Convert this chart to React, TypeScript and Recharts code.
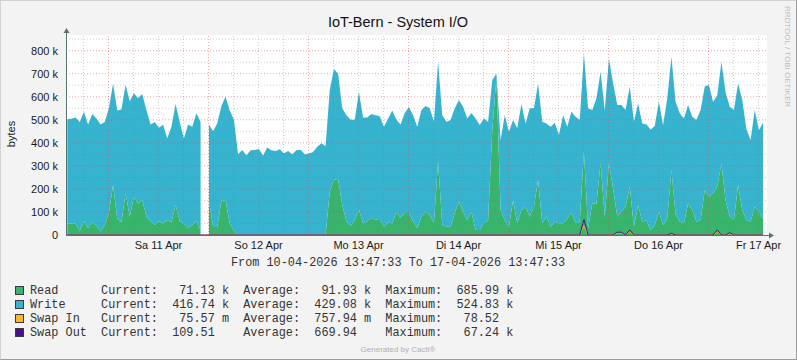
import React from 'react';
import { ComposedChart, Area, Line, XAxis, YAxis, ReferenceLine } from 'recharts';

// hourly samples from 10-04-2026 13:47:33 to 17-04-2026 13:47:33, values in k (1000 bytes)
const readK = [
  50, 50, 50, 18, 60, 30, 55, 40, 15, 45, 97, 217, 70, 55, 180, 80, 166, 137, 152, 80,
  60, 45, 60, 50, 65, 55, 130, 60, 50, 30, 45, 60, 20, null, 150, 35, 35, 150, 150, 50,
  20, 0,
  0, 0, 0, 0, 0, 0, 0, 0, 0, 0, 0, 0, 0, 0, 0, 0, 0, 0, 0, 0,
  0, 188, 240, 243, 130, 60, 40, 65, 110, 50, 60, 75, 65, 70, 35, 55, 50, 100, 75, 95,
  95, 60,
  30, 80, 101, 87, 51, 318, 43, 36, 36, 97, 145, 101, 65, 101, 22, 22, 51, 65, 450, 684,
  108, 65, 36, 152, 51, 108, 123, 80, 123, 239, 51, 80, 36, 58, 51, 51, 72, 101, 51, 58,
  361, 29,
  137, 135, 311, 80, 311, 202, 80, 101, 123, 210, 36, 130, 58, 65, 22, 43, 101, 43, 72, 282,
  90, 58, 51, 137, 108, 58, 65, 195, 166, 181, 210, 311, 150, 80, 65, 217, 108, 65, 58, 123,
  101, 71,
];

const writeK = [
  452, 455, 460, 472, 475, 450, 470, 466, 465, 445, 453, 441, 470, 490, 471, 501, 449, 456, 460, 462,
  420, 445, 405, 428, 355, 415, 438, 430, 369, 450, 425, 468, 470, null, 330, 415, 450, 410, 450, 490,
  480, 350,
  369, 345, 368, 369, 373, 345, 380, 368, 365, 372, 355, 365, 350, 368, 370, 350, 354, 360, 383, 398,
  385, 441, 480, 457, 420, 460, 460, 435, 512, 460, 450, 450, 455, 445, 435, 450, 490, 400, 405, 435,
  460, 460,
  440, 462, 459, 463, 441, 434, 477, 456, 463, 453, 441, 456, 441, 429, 484, 455, 455, 425, 222, 16,
  304, 455, 412, 347, 412, 460, 361, 470, 427, 419, 441, 404, 434, 429, 383, 469, 398, 434, 462, 441,
  427, 521,
  405, 458, 398, 460, 455, 458, 484, 463, 419, 434, 456, 441, 426, 415, 436, 430, 477, 434, 520, 492,
  488, 470, 455, 427, 405, 441, 477, 449, 485, 397, 397, 441, 470, 477, 477, 441, 478, 395, 354, 419,
  354, 417,
];

const swapInK = [
  0, 0, 0, 0, 0, 0, 0, 0, 0, 0, 0, 0,
  0, 0, 0, 0, 0, 0, 0, 0, 0, 0, 0, 0,
  0, 0, 0, 0, 0, 0, 0, 0, 0, 0, 0, 0,
  0, 0, 0, 0, 0, 0, 0, 0, 0, 0, 0, 0,
  0, 0, 0, 0, 0, 0, 0, 0, 0, 0, 0, 0,
  0, 0, 0, 0, 0, 0, 0, 0, 0, 0, 0, 0,
  0, 0, 0, 0, 0, 0, 0, 0, 0, 0, 0, 0,
  0, 0, 0, 0, 0, 0, 0, 0, 0, 0, 0, 0,
  0, 0, 0, 0, 0, 0, 0, 0, 0, 0, 0, 0,
  0, 0, 0, 0, 0, 0, 0, 0, 0, 0, 0, 0,
  0, 0, 0, 0, 40, 0, 0, 0, 0, 0, 0, 0,
  8, 8, 0, 14, 0, 0, 0, 0, 0, 0, 0, 0,
  0, 4, 0, 0, 0, 0, 0, 0, 0, 0, 0, 0,
  14, 0, 0, 6, 0, 0, 0, 0, 0, 0, 0, 0,
];

const swapOutK = [
  0, 0, 0, 0, 0, 0, 0, 0, 0, 0, 0, 0,
  0, 0, 0, 0, 0, 0, 0, 0, 0, 0, 0, 0,
  0, 0, 0, 0, 0, 0, 0, 0, 0, 0, 0, 0,
  0, 0, 0, 0, 0, 0, 0, 0, 0, 0, 0, 0,
  0, 0, 0, 0, 0, 0, 0, 0, 0, 0, 0, 0,
  0, 0, 0, 0, 0, 0, 0, 0, 0, 0, 0, 0,
  0, 0, 0, 0, 0, 0, 0, 0, 0, 0, 0, 0,
  0, 0, 0, 0, 0, 0, 0, 0, 0, 0, 0, 0,
  0, 0, 0, 0, 0, 0, 0, 0, 0, 0, 0, 0,
  0, 0, 0, 0, 0, 0, 0, 0, 0, 0, 0, 0,
  0, 0, 0, 0, 67.2, 0, 0, 0, 0, 0, 0, 0,
  12, 12, 0, 22, 0, 0, 0, 0, 0, 0, 0, 0,
  0, 7, 0, 0, 0, 0, 0, 0, 0, 0, 0, 0,
  22, 0, 0, 10, 0, 0, 0, 0, 0, 0, 0, 0,
];

const dayLabels = ['Sa 11 Apr', 'So 12 Apr', 'Mo 13 Apr', 'Di 14 Apr', 'Mi 15 Apr', 'Do 16 Apr', 'Fr 17 Apr'];
const yTicks = [0, 100000, 200000, 300000, 400000, 500000, 600000, 700000, 800000];
const yHalfTicks = [50000, 150000, 250000, 350000, 450000, 550000, 650000, 750000, 850000];

// legend table
const seriesNames = ['Read', 'Write', 'Swap In', 'Swap Out'];
const seriesColors = ['#38b46c', '#36b4cf', '#fdb52b', '#4a0f8f'];
const currentLabels = [' 71.13 k', '416.74 k', ' 75.57 m', '109.51  '];
const averageLabels = [' 91.93 k', '429.08 k', '757.94 m', '669.94  '];
const maximumLabels = ['685.99 k', '524.83 k', ' 78.52  ', ' 67.24 k'];

const SANS = "'Liberation Sans', Arial, sans-serif";
const MONO = "'Liberation Mono', 'DejaVu Sans Mono', monospace";

const START_HOUR = 13 + 47 / 60 + 33 / 3600;
const firstMidnight = 24 - START_HOUR;
const midnightHours = Array.from({ length: 7 }, (_, k) => firstMidnight + 24 * k);
const sixHourLines = Array.from({ length: 28 }, (_, k) => ({ h: firstMidnight - 6 + 6 * k, major: k % 4 === 1 }))
  .filter(g => !g.major && g.h > 0 && g.h < 168)
  .map(g => g.h);
const labelHours = dayLabels.map((_, k) => firstMidnight + 12 + 24 * k);

const data = readK.map((r, i) => ({
  h: i + 0.3,
  read: r == null ? null : r * 1000,
  write: writeK[i] == null ? null : (writeK[i] as number) * 1000,
  swapIn: swapInK[i] * 1000,
  swapOut: swapOutK[i] * 1000,
}));

const fmtY = (v: number) => (v === 0 ? '0' : `${v / 1000} k`);
const fmtX = (v: number) => {
  const idx = labelHours.findIndex(h => Math.abs(h - v) < 0.01);
  return idx >= 0 ? dayLabels[idx] : '';
};

const RED_GRID = 'rgba(240, 60, 60, 0.45)';
const GRAY_GRID = 'rgba(120, 120, 120, 0.35)';
const AXIS = '#557570';

export default function App() {
  return (
    <div
      style={{
        position: 'absolute', left: 0, top: 0, width: 797, height: 360, boxSizing: 'border-box',
        background: '#f3f3f3', borderTop: '1px solid #d2d2d2', borderLeft: '1px solid #d2d2d2',
        borderRight: '1px solid #9c9c9c', borderBottom: '1px solid #9c9c9c', overflow: 'hidden',
      }}
    >
      <div style={{ position: 'absolute', left: 65, top: 34, width: 701, height: 200, background: '#fff' }} />
      <div style={{ position: 'absolute', left: -1, top: -1 }}>
        <ComposedChart width={797} height={360} data={data} margin={{ top: 35, right: 31, bottom: 95, left: 0 }}>
          <XAxis
            type="number"
            dataKey="h"
            domain={[0, 168]}
            ticks={labelHours}
            tickFormatter={fmtX}
            allowDataOverflow
            axisLine={false}
            tickLine={false}
            tickSize={4}
            tickMargin={2}
            height={30}
            interval={0}
            tick={{ fontSize: 11, fill: '#1a1a1a', fontFamily: SANS }}
          />
          <YAxis
            type="number"
            domain={[0, 868000]}
            ticks={yTicks}
            tickFormatter={fmtY}
            allowDataOverflow
            axisLine={false}
            tickLine={false}
            width={66}
            interval={0}
            tick={{ fontSize: 11, fill: '#1a1a1a', fontFamily: SANS }}
          />
          <Area type="linear" dataKey="read" stackId="io" fill={seriesColors[0]} fillOpacity={1} stroke="none" isAnimationActive={false} />
          <Area type="linear" dataKey="write" stackId="io" fill={seriesColors[1]} fillOpacity={1} stroke="none" isAnimationActive={false} />
          <Line type="linear" dataKey="swapIn" stroke={seriesColors[2]} strokeWidth={1} dot={false} isAnimationActive={false} />
          <Line type="linear" dataKey="swapOut" stroke={seriesColors[3]} strokeWidth={1} dot={false} isAnimationActive={false} />
          {yHalfTicks.map(v => (
            <ReferenceLine key={`hy${v}`} y={v} stroke={GRAY_GRID} strokeDasharray="1 2" />
          ))}
          {yTicks.filter(v => v > 0).map(v => (
            <ReferenceLine key={`my${v}`} y={v} stroke={RED_GRID} strokeDasharray="1 2" />
          ))}
          {sixHourLines.map(h => (
            <ReferenceLine key={`hx${h}`} x={h} stroke={GRAY_GRID} strokeDasharray="1 2" />
          ))}
          {midnightHours.map(h => (
            <ReferenceLine key={`mx${h}`} x={h} stroke={RED_GRID} strokeDasharray="1 2" />
          ))}
        </ComposedChart>
      </div>
      <svg width={797} height={360} style={{ position: 'absolute', left: -1, top: -1, pointerEvents: 'none' }}>
        <text x={398} y={27} textAnchor="middle" fontFamily={SANS} fontSize={14.5} fill="#111">
          IoT-Bern - System I/O
        </text>
        <text transform="translate(785,6) rotate(90)" fontFamily={SANS} fontSize={8} fill="#bdbdbd">
          RRDTOOL / TOBI OETIKER
        </text>
        <text transform="translate(15,134) rotate(-90)" textAnchor="middle" fontFamily={SANS} fontSize={11} fill="#1a1a1a">
          bytes
        </text>
        {/* axes with arrow heads */}
        <line x1={66.5} y1={235} x2={66.5} y2={31} stroke={AXIS} strokeWidth={1} />
        <polygon points="63.5,33 69.5,33 66.5,28" fill={AXIS} />
        <line x1={66} y1={235.5} x2={771} y2={235.5} stroke={AXIS} strokeWidth={1} />
        <polygon points="769,232.5 769,238.5 774,235.5" fill={AXIS} />
        <text x={398} y={263} textAnchor="middle" dominantBaseline="central" fontFamily={MONO} fontSize={11.85} fill="#333" style={{ whiteSpace: 'pre' }}>
          From 10-04-2026 13:47:33 To 17-04-2026 13:47:33
        </text>
        {seriesNames.map((name, i) => {
          const cy = 291 + i * 14;
          const row = `${name.padEnd(10)}Current:  ${currentLabels[i]}  Average:  ${averageLabels[i]}  Maximum:  ${maximumLabels[i]}`;
          return (
            <g key={name}>
              <rect x={15.5} y={cy - 4.5} width={8} height={8} fill={seriesColors[i]} stroke="#3a3a3a" strokeWidth={1} />
              <text x={30} y={cy} dominantBaseline="central" fontFamily={MONO} fontSize={11.85} fill="#333" xmlSpace="preserve" style={{ whiteSpace: 'pre' }}>
                {row}
              </text>
            </g>
          );
        })}
        <text x={398} y={352} textAnchor="middle" fontFamily={SANS} fontSize={8} fill="#b0b0b0">
          Generated by Cacti®
        </text>
      </svg>
    </div>
  );
}
